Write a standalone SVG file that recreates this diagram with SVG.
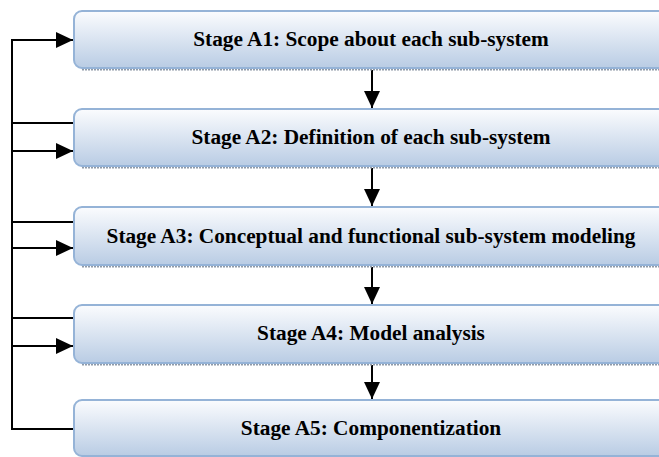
<svg xmlns="http://www.w3.org/2000/svg" width="659" height="457" viewBox="0 0 659 457">
<defs>
<linearGradient id="g" x1="0" y1="0" x2="0" y2="1">
<stop offset="0" stop-color="#fbfcfe"/>
<stop offset="1" stop-color="#b9cce4"/>
</linearGradient>
<marker id="ah" markerWidth="17" markerHeight="16" refX="17" refY="8" orient="auto" markerUnits="userSpaceOnUse">
<path d="M0,0 L17,8 L0,16 Z" fill="#000"/>
</marker>
</defs>
<style>
.box{fill:url(#g);stroke:#95b3d7;stroke-width:2}
.sh{stroke:#8f9aa8;stroke-width:2;stroke-dasharray:2 1;fill:none}
.lbl{font-weight:bold;font-size:21.3px;fill:#000;text-anchor:middle}
.c{stroke:#000;stroke-width:2;fill:none}
</style>
<g id="connectors">
<polyline class="c" points="74,429 12,429 12,40 73,40" marker-end="url(#ah)"/>
<line class="c" x1="12" y1="123" x2="74" y2="123"/>
<line class="c" x1="12" y1="151" x2="73" y2="151" marker-end="url(#ah)"/>
<line class="c" x1="12" y1="222" x2="74" y2="222"/>
<line class="c" x1="12" y1="248" x2="73" y2="248" marker-end="url(#ah)"/>
<line class="c" x1="12" y1="318" x2="74" y2="318"/>
<line class="c" x1="12" y1="346" x2="73" y2="346" marker-end="url(#ah)"/>
<line class="c" x1="372" y1="70" x2="372" y2="108" marker-end="url(#ah)"/>
<line class="c" x1="372" y1="168" x2="372" y2="206" marker-end="url(#ah)"/>
<line class="c" x1="372" y1="267" x2="372" y2="304" marker-end="url(#ah)"/>
<line class="c" x1="372" y1="365" x2="372" y2="399" marker-end="url(#ah)"/>
</g>
<g id="A1">
<line class="sh" x1="82" y1="69.5" x2="665" y2="69.5"/>
<rect class="box" x="74" y="11" width="600" height="57" rx="8"/>
<text class="lbl" font-family="'Liberation Serif', 'Times New Roman', serif" x="371" y="46">Stage A1: Scope about each sub-system</text>
</g>
<g id="A2">
<line class="sh" x1="82" y1="167.5" x2="665" y2="167.5"/>
<rect class="box" x="74" y="109" width="600" height="57" rx="8"/>
<text class="lbl" font-family="'Liberation Serif', 'Times New Roman', serif" x="371" y="144">Stage A2: Definition of each sub-system</text>
</g>
<g id="A3">
<line class="sh" x1="82" y1="266.5" x2="665" y2="266.5"/>
<rect class="box" x="74" y="207" width="600" height="58" rx="8"/>
<text class="lbl" font-family="'Liberation Serif', 'Times New Roman', serif" x="371" y="243">Stage A3: Conceptual and functional sub-system modeling</text>
</g>
<g id="A4">
<line class="sh" x1="82" y1="364.5" x2="665" y2="364.5"/>
<rect class="box" x="74" y="305" width="600" height="58" rx="8"/>
<text class="lbl" font-family="'Liberation Serif', 'Times New Roman', serif" x="371" y="340">Stage A4: Model analysis</text>
</g>
<g id="A5">
<rect class="box" x="74" y="400" width="600" height="56" rx="8"/>
<text class="lbl" font-family="'Liberation Serif', 'Times New Roman', serif" x="371" y="435">Stage A5: Componentization</text>
</g>
</svg>
